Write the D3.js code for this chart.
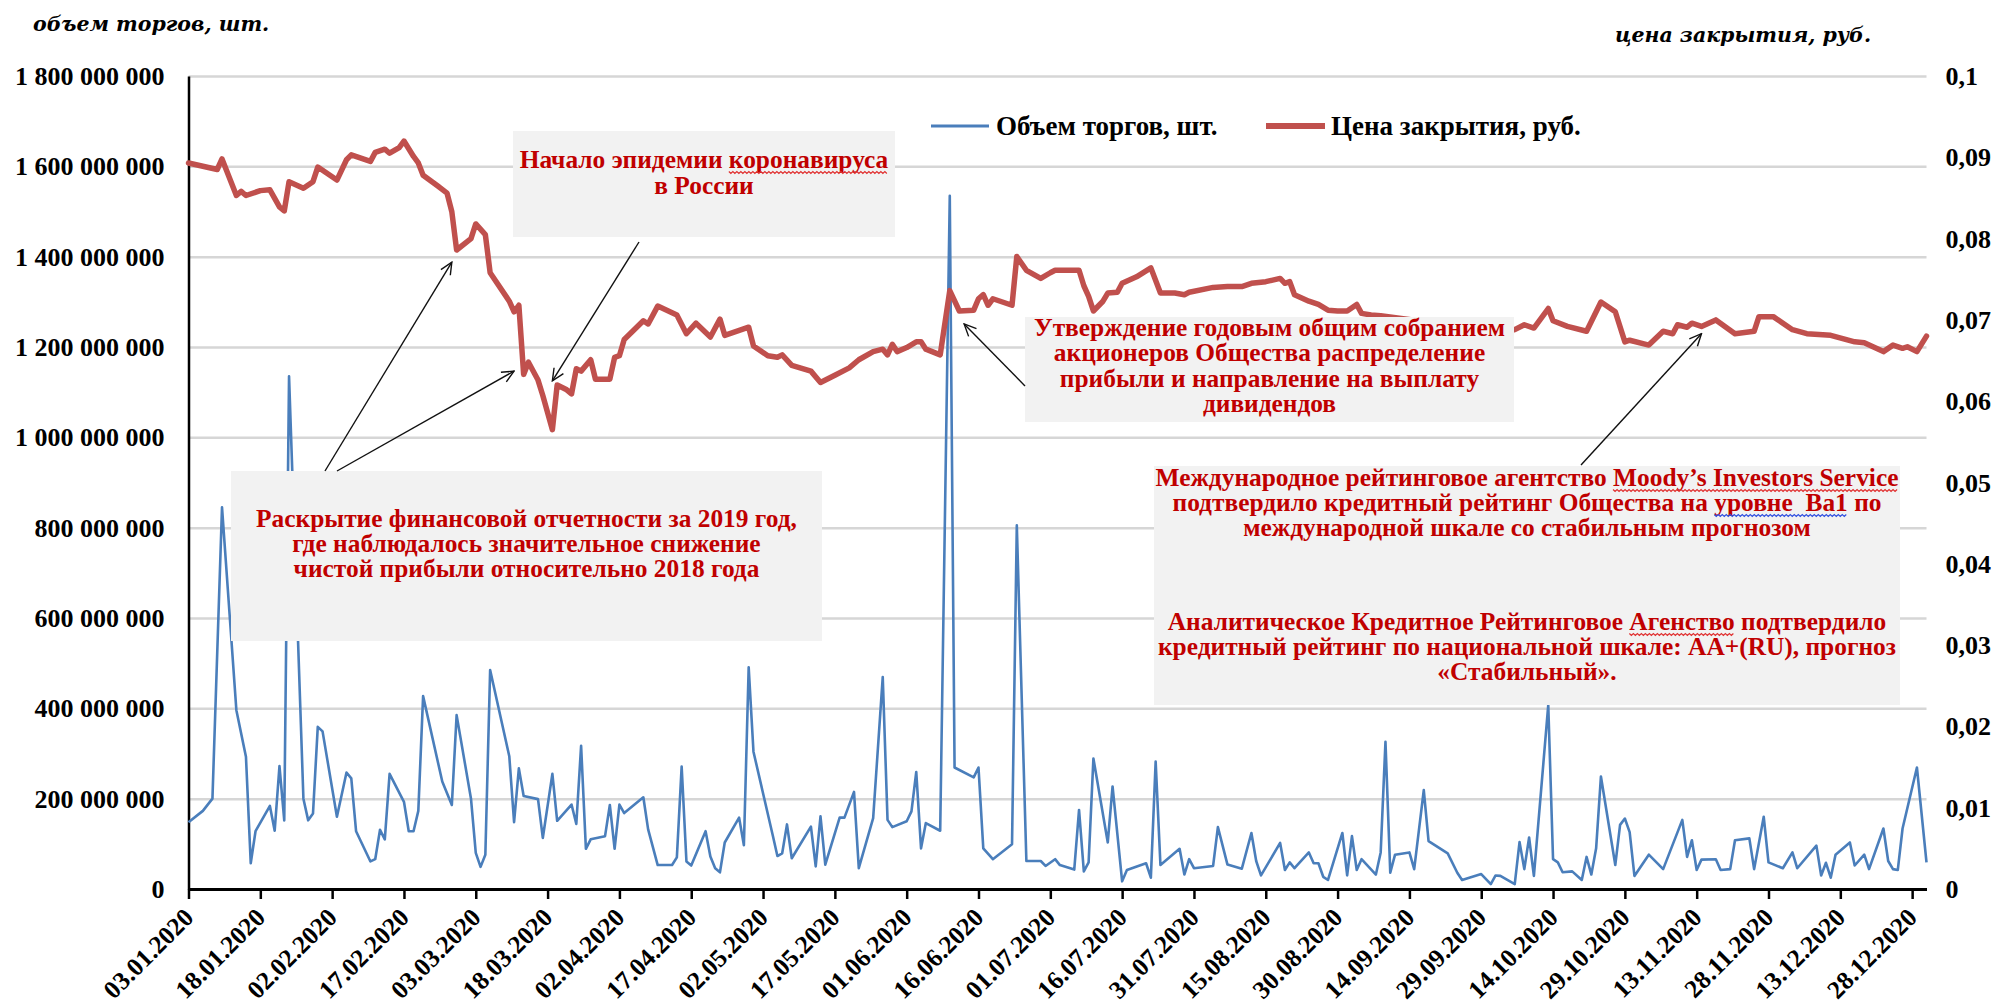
<!DOCTYPE html>
<html>
<head>
<meta charset="utf-8">
<script src="https://cdn.jsdelivr.net/npm/d3@7"></script>
<style>
  html, body { margin: 0; padding: 0; background: #ffffff; }
  svg { display: block; }
</style>
</head>
<body>
<svg id="chart" width="2000" height="1008"></svg>
<script>
// ---- Trading volume (shares, millions) by session date, 2020 ----
const volumeDates = [
  "03.01","06.01","08.01","10.01","13.01","15.01","16.01","17.01","20.01","21.01","22.01","23.01","24.01","27.01","28.01","29.01","30.01","31.01",
  "03.02","05.02","06.02","07.02","10.02","11.02","12.02","13.02","14.02","17.02","18.02","19.02","20.02","21.02","25.02","27.02","28.02",
  "02.03","03.03","04.03","05.03","06.03","10.03","11.03","12.03","13.03","16.03","17.03","19.03","20.03","23.03","24.03","25.03","26.03","27.03","30.03","31.03",
  "01.04","02.04","03.04","07.04","08.04","10.04","13.04","14.04","15.04","16.04","17.04","20.04","21.04","22.04","23.04","24.04","27.04","28.04","29.04","30.04",
  "04.05","05.05","06.05","07.05","08.05","12.05","13.05","14.05","15.05","18.05","19.05","21.05","22.05","25.05","27.05","28.05","29.05",
  "01.06","02.06","03.06","04.06","05.06","08.06","10.06","11.06","15.06","16.06","17.06","19.06","23.06","24.06","26.06","29.06","30.06",
  "02.07","03.07","06.07","07.07","08.07","09.07","10.07","13.07","14.07","16.07","17.07","21.07","22.07","23.07","24.07","28.07","29.07","30.07","31.07",
  "04.08","05.08","07.08","10.08","12.08","13.08","14.08","18.08","19.08","20.08","21.08","24.08","25.08","26.08","27.08","28.08","31.08",
  "01.09","02.09","03.09","04.09","07.09","08.09","09.09","10.09","11.09","14.09","15.09","17.09","18.09","22.09","24.09","25.09","29.09",
  "01.10","02.10","03.10","06.10","07.10","08.10","09.10","10.10","13.10","14.10","15.10","16.10","18.10","20.10","21.10","22.10","23.10","24.10","27.10","28.10","29.10","30.10","31.10",
  "03.11","06.11","10.11","11.11","12.11","13.11","14.11","17.11","18.11","20.11","21.11","24.11","25.11","27.11","28.11",
  "01.12","03.12","04.12","08.12","09.12","10.12","11.12","12.12","15.12","16.12","18.12","19.12","22.12","23.12","24.12","25.12","26.12","29.12","31.12"
];
const volumeMln = [
  148,173,200,845,396,293,57,128,184,129,272,152,1135,200,152,167,359,349,
  160,258,245,128,61,66,131,110,255,193,128,128,173,427,238,186,385,
  200,80,49,76,485,294,148,267,206,199,113,255,151,187,144,317,89,110,117,186,
  89,187,168,203,132,53,53,70,271,61,52,128,72,46,37,103,158,97,491,304,
  120,73,79,143,68,138,50,161,54,158,158,215,46,157,469,153,137,
  150,172,259,90,146,129,1535,269,247,269,90,66,99,805,62,62,51,
  66,53,43,175,39,59,289,103,227,17,42,57,25,282,53,89,32,66,46,
  51,137,54,45,124,62,30,102,42,59,46,81,57,57,27,20,124,
  30,117,42,66,32,81,326,36,76,81,44,219,106,79,36,20,33,
  11,30,29,11,104,44,114,29,407,66,59,37,39,20,71,32,90,249,53,142,156,126,29,
  76,44,153,71,108,42,65,66,42,44,108,112,44,160,59,
  46,81,46,96,30,58,25,76,103,52,76,44,134,62,44,42,134,269,59
];

// ---- Closing price (roubles) ----
const priceDates = [
  "03.01","06.01","09.01","10.01","13.01","14.01","15.01","18.01","20.01","22.01","23.01","24.01","27.01","29.01","30.01",
  "02.02","03.02","05.02","06.02","10.02","11.02","13.02","14.02","16.02","17.02","19.02","20.02","21.02","24.02","26.02","27.02","28.02",
  "02.03","03.03","05.03","06.03","10.03","11.03","12.03","13.03","14.03","16.03","17.03","19.03","20.03","22.03","23.03","24.03","25.03","27.03","28.03","31.03",
  "01.04","02.04","03.04","07.04","08.04","10.04","14.04","16.04","18.04","21.04","23.04","24.04","29.04","30.04",
  "01.05","03.05","05.05","06.05","08.05","12.05","14.05","17.05","20.05","22.05","25.05","27.05","28.05","29.05","30.05",
  "01.06","03.06","04.06","05.06","08.06","10.06","12.06","15.06","16.06","17.06","18.06","19.06","23.06","24.06","26.06","29.06",
  "01.07","02.07","07.07","08.07","09.07","10.07","12.07","13.07","15.07","16.07","19.07","22.07","24.07","27.07","29.07","30.07",
  "04.08","07.08","10.08","12.08","15.08","18.08","19.08","20.08","21.08","24.08","26.08","28.08","30.08",
  "01.09","03.09","04.09","06.09","08.09","17.09","27.09",
  "06.10","08.10","10.10","13.10","14.10","17.10","21.10","24.10","27.10","29.10","30.10",
  "03.11","06.11","08.11","09.11","11.11","12.11","14.11","17.11","21.11","25.11","26.11","29.11",
  "03.12","06.12","11.12","16.12","18.12","22.12","24.12","26.12","27.12","29.12","31.12"
];
const priceValues = [
  0.0893,0.0889,0.0885,0.0898,0.0853,0.0858,0.0853,0.0859,0.0860,0.0839,0.0834,0.0870,0.0862,0.0870,0.0888,
  0.0876,0.0872,0.0897,0.0903,0.0895,0.0906,0.0910,0.0905,0.0912,0.0920,0.0901,0.0893,0.0878,0.0865,0.0856,0.0833,0.0786,
  0.0800,0.0818,0.0805,0.0758,0.0723,0.0710,0.0718,0.0633,0.0648,0.0626,0.0607,0.0565,0.0620,0.0614,0.0609,0.0640,0.0637,0.0651,0.0627,0.0627,
  0.0654,0.0656,0.0676,0.0699,0.0695,0.0717,0.0706,0.0683,0.0696,0.0679,0.0701,0.0681,0.0691,0.0668,
  0.0664,0.0656,0.0654,0.0657,0.0644,0.0637,0.0623,0.0632,0.0641,0.0651,0.0661,0.0664,0.0657,0.0670,0.0661,
  0.0666,0.0673,0.0673,0.0664,0.0657,0.0736,0.0711,0.0712,0.0726,0.0731,0.0718,0.0726,0.0718,0.0778,0.0761,0.0751,
  0.0758,0.0761,0.0761,0.0742,0.0729,0.0711,0.0723,0.0733,0.0734,0.0745,0.0753,0.0764,0.0733,0.0733,0.0731,0.0734,
  0.0740,0.0741,0.0741,0.0745,0.0747,0.0751,0.0745,0.0747,0.0731,0.0723,0.0719,0.0712,0.0711,
  0.0711,0.0719,0.0708,0.0706,0.0705,0.0698,0.0694,
  0.0688,0.0694,0.0690,0.0714,0.0699,0.0692,0.0686,0.0722,0.0710,0.0673,0.0675,
  0.0669,0.0686,0.0683,0.0694,0.0691,0.0696,0.0692,0.0700,0.0683,0.0686,0.0704,0.0704,
  0.0688,0.0683,0.0681,0.0673,0.0672,0.0661,0.0669,0.0665,0.0667,0.0661,0.0680
];

// ---- Axes ----
const tickLabels = [
  "03.01.2020","18.01.2020","02.02.2020","17.02.2020","03.03.2020","18.03.2020","02.04.2020","17.04.2020",
  "02.05.2020","17.05.2020","01.06.2020","16.06.2020","01.07.2020","16.07.2020","31.07.2020","15.08.2020",
  "30.08.2020","14.09.2020","29.09.2020","14.10.2020","29.10.2020","13.11.2020","28.11.2020","13.12.2020","28.12.2020"
];
const volumeTicks = [0, 200e6, 400e6, 600e6, 800e6, 1000e6, 1200e6, 1400e6, 1600e6, 1800e6];
const priceTicks = [0, 0.01, 0.02, 0.03, 0.04, 0.05, 0.06, 0.07, 0.08, 0.09, 0.1];
const seriesNames = ["Объем торгов, шт.", "Цена закрытия, руб."];
const axisTitles = ["объем торгов, шт.", "цена закрытия, руб."];

// ---- Event notes ----
const noteEpidemic = ["Начало эпидемии коронавируса", "в России"];
const noteReport = ["Раскрытие финансовой отчетности за 2019 год,", "где наблюдалось значительное снижение", "чистой прибыли относительно 2018 года"];
const noteDividends = ["Утверждение годовым общим собранием", "акционеров Общества распределение", "прибыли и направление на выплату", "дивидендов"];
const noteRatings = [
  "Международное рейтинговое агентство Moody’s Investors Service",
  "подтвердило кредитный рейтинг Общества на уровне  Ba1 по",
  "международной шкале со стабильным прогнозом",
  "Аналитическое Кредитное Рейтинговое Агенство подтвердило",
  "кредитный рейтинг по национальной шкале: АА+(RU), прогноз",
  "«Стабильный»."
];

// ================= drawing =================
const SERIF = "'Liberation Serif', 'Times New Roman', serif";
const TITLE_SERIF = "'DejaVu Serif', 'Liberation Serif', serif";
const BLUE = "#4a7ebb", RED = "#c0504d", NOTE = "#c00000";

const parseFull = d3.timeParse("%d.%m.%Y");
const asDate = s => parseFull(s + ".2020");

const volume = volumeDates.map((d, i) => ({ date: asDate(d), value: volumeMln[i] * 1e6 }));
const price = priceDates.map((d, i) => ({ date: asDate(d), value: priceValues[i] }));
const tickDates = tickLabels.map(parseFull);

const plot = { left: 188.5, right: 1926.5, top: 76, bottom: 889 };

const x = d3.scaleTime().domain([asDate("03.01"), asDate("31.12")]).range([plot.left, plot.right]);
const yVol = d3.scaleLinear().domain([0, 1.8e9]).range([plot.bottom, plot.top]);
const yPrice = d3.scaleLinear().domain([0, 0.1]).range([plot.bottom, plot.top]);

const ru = d3.formatLocale({ decimal: ",", thousands: " ", grouping: [3], currency: ["", ""] });
const fmtVol = ru.format(",d");
const fmtPrice = ru.format(".2~f");

const svg = d3.select("#chart");

const defs = svg.append("defs");
defs.append("marker")
  .attr("id", "arrowOpen")
  .attr("viewBox", "0 0 14 14")
  .attr("refX", 13).attr("refY", 7)
  .attr("markerWidth", 14).attr("markerHeight", 14)
  .attr("markerUnits", "userSpaceOnUse")
  .attr("orient", "auto")
  .append("path")
  .attr("d", "M1,1.5 L13,7 L1,12.5")
  .attr("fill", "none").attr("stroke", "#111").attr("stroke-width", 1.4);

// horizontal gridlines on the volume scale
svg.append("g")
  .attr("transform", `translate(${plot.left},0)`)
  .call(d3.axisLeft(yVol).tickValues(volumeTicks.filter(v => v > 0))
    .tickSize(-(plot.right - plot.left)).tickFormat(""))
  .call(g => g.select(".domain").remove())
  .selectAll("line").attr("stroke", "#d6d6d6").attr("stroke-width", 2.5);

function styleText(sel, size) {
  sel.attr("font-family", SERIF).attr("font-weight", "bold")
    .attr("font-size", size).attr("fill", "#000");
}

// left axis: volume
const gLeft = svg.append("g")
  .attr("transform", `translate(${plot.left},0)`)
  .call(d3.axisLeft(yVol).tickValues(volumeTicks).tickSize(0).tickSizeOuter(0)
    .tickPadding(24).tickFormat(fmtVol));
gLeft.select(".domain").attr("stroke", "#000").attr("stroke-width", 2.5);
gLeft.selectAll("text").call(styleText, 26).attr("dy", "0.33em");

// right axis: price
const gRight = svg.append("g")
  .attr("transform", `translate(${plot.right},0)`)
  .call(d3.axisRight(yPrice).tickValues(priceTicks).tickSize(0).tickSizeOuter(0)
    .tickPadding(19).tickFormat(fmtPrice));
gRight.select(".domain").remove();
gRight.selectAll("text").call(styleText, 26).attr("dy", "0.33em");

// series
const volLine = d3.line().x(d => x(d.date)).y(d => yVol(d.value));
const priceLine = d3.line().x(d => x(d.date)).y(d => yPrice(d.value));

svg.append("path").datum(volume)
  .attr("d", volLine).attr("fill", "none")
  .attr("stroke", BLUE).attr("stroke-width", 2.6)
  .attr("stroke-linejoin", "round");

svg.append("path").datum(price)
  .attr("d", priceLine).attr("fill", "none")
  .attr("stroke", RED).attr("stroke-width", 5.5)
  .attr("stroke-linejoin", "round").attr("stroke-linecap", "round");

// bottom axis: dates
const gBottom = svg.append("g")
  .attr("transform", `translate(0,${plot.bottom})`)
  .call(d3.axisBottom(x).tickValues(tickDates).tickSize(10).tickSizeOuter(0)
    .tickFormat(d3.timeFormat("%d.%m.%Y")));
gBottom.select(".domain").attr("stroke", "#000").attr("stroke-width", 3);
gBottom.selectAll(".tick line").attr("stroke", "#000").attr("stroke-width", 2.5);
gBottom.selectAll("text").call(styleText, 25.5)
  .attr("x", 0).attr("y", 0).attr("dy", 0)
  .attr("text-anchor", "end")
  .attr("transform", "translate(6,30) rotate(-45)");

// ---- notes ----
const notes = [
  { lines: noteEpidemic, box: [513, 131, 382, 106], base: [168, 194] },
  { lines: noteReport, box: [231, 471, 591, 170], base: [527, 552, 577] },
  { lines: noteDividends, box: [1025, 317, 489, 105], base: [335.5, 361, 386.5, 412] },
  { lines: noteRatings, box: [1154, 466, 746, 239], base: [486, 511, 536, 630, 655, 680] }
];

const gNotes = svg.append("g");
const noteTexts = [];
notes.forEach(n => {
  const [bx, by, bw, bh] = n.box;
  gNotes.append("rect").attr("x", bx).attr("y", by).attr("width", bw).attr("height", bh)
    .attr("fill", "#f2f2f2");
  n.lines.forEach((line, i) => {
    const t = gNotes.append("text")
      .attr("x", bx + bw / 2).attr("y", n.base[i])
      .attr("text-anchor", "middle")
      .attr("font-family", SERIF).attr("font-weight", "bold")
      .attr("font-size", 25.4).attr("fill", NOTE)
      .attr("xml:space", "preserve")
      .style("white-space", "pre")
      .text(line);
    noteTexts.push(t.node());
  });
});

// proofing-style wavy underlines under some words
function squiggle(word, color) {
  const node = noteTexts.find(n => n.textContent.includes(word));
  if (!node) return;
  const i = node.textContent.indexOf(word);
  const a = node.getStartPositionOfChar(i);
  const b = node.getEndPositionOfChar(i + word.length - 1);
  const y0 = a.y + 3.5;
  let d = `M${a.x},${y0}`;
  let k = 0;
  for (let px = a.x + 2; px <= b.x; px += 2, k++) d += `L${px},${y0 + (k % 2 ? 0 : 2)}`;
  gNotes.append("path").attr("d", d).attr("fill", "none")
    .attr("stroke", color).attr("stroke-width", 1.2);
}
squiggle("коронавируса", "#e03030");
squiggle("Moody’s Investors Service", "#e03030");
squiggle("Агенство", "#e03030");
squiggle("уровне  Ba1", "#3050e0");

// arrows from notes to the price line
const arrows = [
  { from: [639, 242], to: ["19.03", 0.0625] },
  { from: [325, 471], to: ["27.02", 0.0771] },
  { from: [337, 471], to: ["11.03", 0.0637] },
  { from: [1025, 386], to: ["13.06", 0.0695] },
  { from: [1581, 465], to: ["14.11", 0.0683] }
];
arrows.forEach(a => {
  svg.append("line")
    .attr("x1", a.from[0]).attr("y1", a.from[1])
    .attr("x2", x(asDate(a.to[0]))).attr("y2", yPrice(a.to[1]))
    .attr("stroke", "#111").attr("stroke-width", 1.4)
    .attr("marker-end", "url(#arrowOpen)");
});

// ---- legend ----
const gLegend = svg.append("g");
gLegend.append("line").attr("x1", 931).attr("x2", 989).attr("y1", 126).attr("y2", 126)
  .attr("stroke", BLUE).attr("stroke-width", 3);
gLegend.append("text").attr("x", 996).attr("y", 135).text(seriesNames[0]).call(styleText, 27);
gLegend.append("line").attr("x1", 1266).attr("x2", 1325).attr("y1", 126).attr("y2", 126)
  .attr("stroke", RED).attr("stroke-width", 6);
gLegend.append("text").attr("x", 1331).attr("y", 135).text(seriesNames[1]).call(styleText, 27);

// ---- axis titles ----
svg.append("text").attr("x", 33).attr("y", 31).text(axisTitles[0])
  .call(styleText, 20.5).attr("font-family", TITLE_SERIF).attr("font-style", "italic");
svg.append("text").attr("x", 1615).attr("y", 42).text(axisTitles[1])
  .call(styleText, 20.5).attr("font-family", TITLE_SERIF).attr("font-style", "italic");
</script>
</body>
</html>
